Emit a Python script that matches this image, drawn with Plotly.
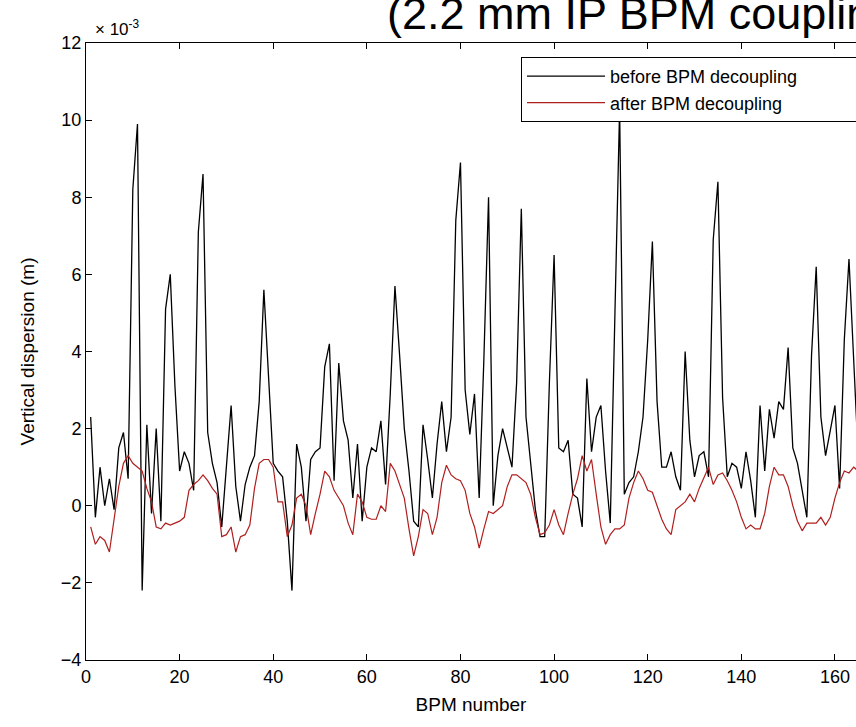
import plotly.graph_objects as go

# BPM index
bpm = list(range(1, 168))

# Vertical dispersion, units of 1e-3 m
before = [2.3, -0.3, 1.0, 0.0, 0.7, -0.1, 1.5, 1.9, 0.7, 8.2,
          9.9, -2.2, 2.1, -0.2, 2.0, -0.4, 5.1, 6.0, 3.1, 0.9,
          1.4, 1.1, 0.4, 7.1, 8.6, 1.9, 1.1, 0.6, -0.55, 1.0,
          2.6, 0.5, -0.4, 0.55, 1.0, 1.3, 2.7, 5.6, 3.3, 1.1,
          0.9, 0.75, -0.4, -2.2, 1.6, 1.0, -0.4, 1.2, 1.4, 1.5,
          3.6, 4.2, 0.65, 3.7, 2.2, 1.7, 0.2, 1.6, -0.4, 1.0,
          1.5, 1.4, 2.2, 0.55, 2.9, 5.7, 3.9, 2.0, 0.9, -0.4,
          -0.55, 2.1, 1.2, 0.2, 1.6, 2.7, 1.4, 2.3, 7.4, 8.9,
          3.0, 1.85, 2.9, 0.2, 3.8, 8.0, 0.0, 1.3, 2.0, 1.5,
          1.0, 3.2, 7.7, 2.3, 1.1, -0.1, -0.8, -0.8, 3.2, 6.5,
          1.5, 1.4, 1.7, 0.3, 0.2, -0.55, 3.3, 1.4, 2.3, 2.6,
          0.9, -0.45, 5.0, 10.3, 0.3, 0.6, 0.75, 1.4, 2.3, 4.3,
          6.85, 2.7, 1.0, 1.0, 1.4, 0.75, 0.4, 4.0, 1.7, 0.75,
          1.3, 1.4, 0.75, 6.9, 8.4, 2.8, 0.75, 1.1, 1.0, 0.45,
          1.4, 0.65, -0.3, 2.6, 0.9, 2.5, 1.75, 2.7, 2.5, 4.1,
          1.5, 1.1, 0.4, -0.3, 3.9, 6.2, 2.3, 1.3, 1.95, 2.6,
          0.45, 4.3, 6.4, 3.6, 1.2, 0.8, 1.5]

after = [-0.55, -1.0, -0.8, -0.9, -1.2, -0.3, 0.5, 1.1, 1.3, 1.1,
         1.0, 0.9, 0.45, 0.1, -0.55, -0.6, -0.45, -0.5, -0.45, -0.4,
         -0.3, 0.4, 0.55, 0.65, 0.8, 0.65, 0.45, 0.3, -0.8, -0.75,
         -0.55, -1.2, -0.8, -0.75, -0.5, 0.45, 1.1, 1.2, 1.2, 1.0,
         0.1, 0.1, -0.8, -0.5, 0.2, 0.3, 0.0, -0.75, -0.2, 0.3,
         0.9, 0.75, 0.4, 0.2, 0.0, -0.45, -0.75, 0.3, 0.1, -0.3,
         -0.35, -0.35, 0.0, -0.15, 1.1, 0.9, 0.55, 0.2, -0.6, -1.3,
         -0.8, -0.1, -0.2, -0.75, -0.3, 0.6, 1.05, 0.8, 0.7, 0.65,
         0.4, -0.2, -0.55, -1.1, -0.6, -0.15, -0.2, -0.1, 0.0, 0.5,
         0.8, 0.8, 0.7, 0.6, 0.3, -0.3, -0.75, -0.7, -0.5, -0.1,
         -0.5, -0.75, -0.2, 0.3, 0.7, 1.3, 0.9, 1.2, 0.3, -0.55,
         -1.0, -0.75, -0.6, -0.6, -0.5, 0.2, 0.6, 0.9, 0.7, 0.4,
         0.35, 0.0, -0.35, -0.6, -0.75, -0.1, 0.0, 0.1, 0.3, 0.1,
         0.45, 0.75, 1.0, 0.55, 0.8, 0.85, 0.65, 0.4, 0.1, -0.3,
         -0.6, -0.5, -0.6, -0.6, -0.2, 0.5, 1.0, 0.8, 0.8, 0.5,
         0.0, -0.4, -0.65, -0.45, -0.45, -0.45, -0.3, -0.5, -0.3, 0.2,
         0.6, 0.9, 0.85, 1.0, 0.9, 0.7, 0.8]

x_ticks = [0, 20, 40, 60, 80, 100, 120, 140, 160]
y_ticks = [-4, -2, 0, 2, 4, 6, 8, 10, 12]

W, H = 856, 727
L, T, B = 86, 43, 67
FONT = "Liberation Sans, Arial, Helvetica, sans-serif"

fig = go.Figure()
fig.add_trace(go.Scatter(x=bpm, y=before, mode="lines",
                         name="before BPM decoupling" + "\u00a0" * 14,
                         line=dict(color="#000000", width=1.3)))
fig.add_trace(go.Scatter(x=bpm, y=after, mode="lines",
                         name="after BPM decoupling",
                         line=dict(color="#b01e1e", width=1.2)))

plot_w = W - L
plot_h = H - T - B

def px(X):
    return (X - L) / plot_w

def py(Y):
    return (H - B - Y) / plot_h

fig.update_layout(
    width=W, height=H,
    margin=dict(l=L, r=0, t=T, b=B, pad=0, autoexpand=False),
    paper_bgcolor="white", plot_bgcolor="white",
    font=dict(family=FONT, size=18, color="#000000"),
    showlegend=True,
    legend=dict(x=px(521), y=py(57), xanchor="left", yanchor="top",
                bgcolor="white", bordercolor="#000000", borderwidth=1,
                font=dict(size=18, family=FONT), itemwidth=78,
                tracegroupgap=0),
    xaxis=dict(range=[0, 164.5], tickvals=x_ticks, ticks="inside", ticklen=6,
               tickcolor="#000000", showline=True, linecolor="#000000",
               linewidth=1, mirror="ticks", showgrid=False, zeroline=False,
               title=dict(text="BPM number", font=dict(size=19), standoff=12),
               tickfont=dict(size=18)),
    yaxis=dict(range=[-4, 12], tickvals=y_ticks, ticks="inside", ticklen=6,
               tickcolor="#000000", showline=True, linecolor="#000000",
               linewidth=1, mirror=False, showgrid=False, zeroline=False,
               title=dict(text="Vertical dispersion (m)", font=dict(size=19),
                          standoff=21),
               tickfont=dict(size=18)),
    annotations=[
        dict(text="(2.2 mm IP BPM coupling)", xref="paper", yref="paper",
             x=px(385), y=py(41), xanchor="left", yanchor="bottom",
             showarrow=False, font=dict(size=45, family=FONT)),
        dict(text="\u00d7 10<sup>-3</sup>", xref="paper", yref="paper",
             x=px(93), y=py(41), xanchor="left", yanchor="bottom",
             showarrow=False, font=dict(size=17, family=FONT)),
    ],
)

fig.write_html(
    "out.html",
    config={"displayModeBar": False},
    post_script="document.body.style.margin='0px';"
                "document.body.style.overflow='hidden';",
)
